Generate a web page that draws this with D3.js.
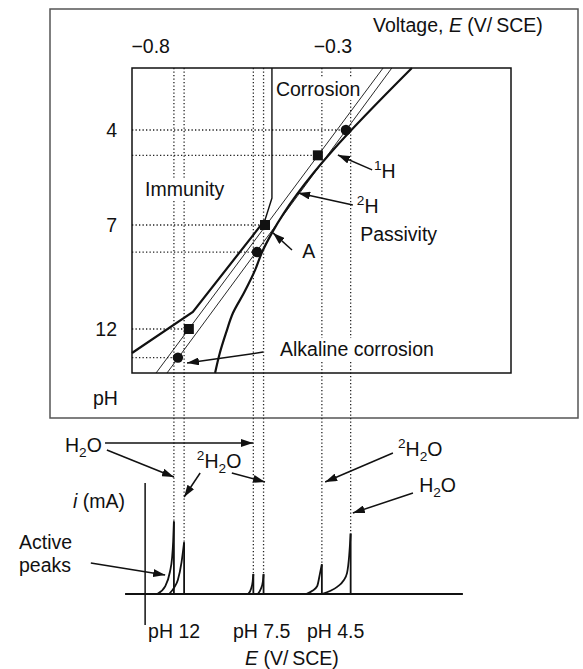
<!DOCTYPE html>
<html><head><meta charset="utf-8">
<script src="https://cdn.jsdelivr.net/npm/d3@7"></script>
<style>
body{margin:0;background:#fff;}
svg text{font-family:"Liberation Sans",Arial,sans-serif;fill:#111;}
</style></head><body>
<svg id="c" width="583" height="669"></svg>
<script>
// ---------- data ----------
const voltageTicks = [-0.8, -0.3];
const pHTicks = [4, 7, 12];
const eDomain = [-0.85, 0.19];
const pHDomain = [2, 4, 7, 12, 14];
const iDomain = [0, 10];

const thinLineSquares = [[-0.161, 2], [-0.784, 14]];
const thinLineCircles = [[-0.137, 2], [-0.754, 14]];
const line1H = [[-0.082, 2], [-0.466, 7.38], [-0.493, 8.3], [-0.512, 9.16], [-0.543, 10.27], [-0.573, 11.23], [-0.592, 12.18], [-0.609, 13.09], [-0.622, 14]];
const corrosionUpper = [[-0.466, 2], [-0.466, 6.15], [-0.485, 6.84]];
const immunityLower = [[-0.485, 6.84], [-0.683, 11.18], [-0.85, 13.09]];
const squarePoints = [[-0.340, 4.8], [-0.485, 7], [-0.694, 12]];
const circlePoints = [[-0.263, 4], [-0.507, 8.3], [-0.724, 13.3]];

const peakE = [-0.735, -0.707, -0.517, -0.489, -0.329, -0.250];
const peakI = [6.6, 4.7, 1.8, 1.8, 2.7, 5.5];
const peakCurves = [
  [[-0.781, 0], [-0.759, 0.7], [-0.746, 2.0], [-0.740, 3.3], [-0.737, 4.8], [-0.735, 6.6]],
  [[-0.748, 0], [-0.734, 0.6], [-0.724, 1.3], [-0.714, 2.9], [-0.707, 4.7]],
  [[-0.531, 0], [-0.523, 0.5], [-0.519, 1.1], [-0.517, 1.8]],
  [[-0.505, 0], [-0.496, 0.5], [-0.491, 1.1], [-0.489, 1.8]],
  [[-0.372, 0], [-0.355, 0.3], [-0.342, 0.7], [-0.334, 1.9], [-0.329, 2.7]],
  [[-0.329, 0], [-0.305, 0.3], [-0.287, 0.65], [-0.270, 1.2], [-0.260, 1.9], [-0.254, 3.5], [-0.250, 5.5]]
];
const phLabels = ["pH 12", "pH 7.5", "pH 4.5"];
const phLabelE = [-0.806, -0.573, -0.370];

// annotation arrows (data coordinates)
const upperArrows = [
  [[-0.191, 5.26], [-0.285, 4.79]],
  [[-0.244, 6.37], [-0.394, 5.99]],
  [[-0.411, 8.2], [-0.463, 7.38]],
  [[-0.490, 13.05], [-0.699, 13.55]]
];
const lowerArrows = [
  [[-0.924, 13.73], [-0.518, 13.73]],
  [[-0.919, 13.09], [-0.735, 10.64]],
  [[-0.663, 11.0], [-0.707, 8.82]],
  [[-0.576, 11.0], [-0.485, 10.18]],
  [[-0.134, 12.82], [-0.320, 10.18]],
  [[-0.079, 9.18], [-0.244, 7.36]],
  [[-0.963, 2.82], [-0.759, 1.73]]
];

// ---------- drawing ----------
const svg = d3.select("#c");
const x = d3.scaleLinear().domain(eDomain).range([132, 511]);
const y = d3.scaleLinear().domain(pHDomain).range([68, 130, 225, 329, 373]);
const yi = d3.scaleLinear().domain(iDomain).range([594, 484]);
const FS = 19.5;

const defs = svg.append("defs");
defs.append("marker").attr("id", "ah").attr("viewBox", "0 0 12 8")
  .attr("refX", 12).attr("refY", 4).attr("markerWidth", 12).attr("markerHeight", 8)
  .attr("markerUnits", "userSpaceOnUse").attr("orient", "auto")
  .append("path").attr("d", "M0,0 L12,4 L0,8 Z").attr("fill", "#111");

// outer frame
svg.append("rect").attr("x", 50).attr("y", 9).attr("width", 528).attr("height", 409)
  .attr("fill", "none").attr("stroke", "#555").attr("stroke-width", 1.5);

const dotted = {stroke: "#222", "stroke-width": 1.3, "stroke-dasharray": "1.3 2.2"};
function applyAttrs(sel, o) { for (const k in o) sel.attr(k, o[k]); return sel; }

// vertical dotted lines spanning both panels
peakE.forEach((e, k) => {
  applyAttrs(svg.append("line").attr("x1", x(e)).attr("x2", x(e))
    .attr("y1", y(pHDomain[0])).attr("y2", yi(peakI[k])), dotted);
});
// horizontal dotted lines
squarePoints.concat(circlePoints).forEach(p => {
  applyAttrs(svg.append("line").attr("x1", x(eDomain[0])).attr("x2", x(p[0]))
    .attr("y1", y(p[1])).attr("y2", y(p[1])), dotted);
});

// labels with white background
function label(xp, yp, parts, bg) {
  const g = svg.append("g");
  const t = g.append("text").attr("x", xp).attr("y", yp).attr("font-size", FS);
  parts.forEach(p => {
    const ts = t.append("tspan").text(p.t);
    if (p.sub) ts.attr("font-size", FS * 0.7).attr("dy", 5);
    if (p.sup) ts.attr("font-size", FS * 0.7).attr("dy", p.sup);
    if (p.dy) ts.attr("dy", p.dy);
    if (p.it) ts.attr("font-style", "italic");
  });
  if (bg) {
    const b = t.node().getBBox();
    g.insert("rect", "text").attr("x", b.x - 2).attr("y", b.y).attr("width", b.width + 4)
      .attr("height", b.height).attr("fill", "#fff");
  }
  return t;
}

// inner box
svg.append("rect").attr("x", x(eDomain[0])).attr("y", y(pHDomain[0]))
  .attr("width", x(eDomain[1]) - x(eDomain[0])).attr("height", y(14) - y(2))
  .attr("fill", "none").attr("stroke", "#111").attr("stroke-width", 1.5);

label(x(-0.455), y(2.9), [{t: "Corrosion"}], true);
label(x(-0.814), y(6.08), [{t: "Immunity"}], true);
label(x(-0.224), y(7.77), [{t: "Passivity"}], true);
label(x(-0.444), y(13.23), [{t: "Alkaline corrosion"}], true);
label(x(-0.383), y(8.59), [{t: "A"}], false);
label(x(-0.186), y(5.52), [{t: "1", sup: -8}, {t: "H", dy: 8}], false);
label(x(-0.233), y(6.62), [{t: "2", sup: -8}, {t: "H", dy: 8}], false);

// boundary lines
const lp = d3.line().x(d => x(d[0])).y(d => y(d[1]));
svg.append("path").attr("d", lp(thinLineSquares)).attr("fill", "none").attr("stroke", "#111").attr("stroke-width", 0.9);
svg.append("path").attr("d", lp(thinLineCircles)).attr("fill", "none").attr("stroke", "#111").attr("stroke-width", 0.9);
svg.append("path").attr("d", lp.curve(d3.curveMonotoneY)(line1H)).attr("fill", "none").attr("stroke", "#111").attr("stroke-width", 2.2);
lp.curve(d3.curveLinear);
svg.append("path").attr("d", lp(corrosionUpper)).attr("fill", "none").attr("stroke", "#111").attr("stroke-width", 1.4);
svg.append("path").attr("d", lp(immunityLower)).attr("fill", "none").attr("stroke", "#111").attr("stroke-width", 2.2);

// markers
svg.selectAll("rect.sq").data(squarePoints).join("rect").attr("class", "sq")
  .attr("x", d => x(d[0]) - 5).attr("y", d => y(d[1]) - 5).attr("width", 10).attr("height", 10).attr("fill", "#111");
svg.selectAll("circle.ci").data(circlePoints).join("circle").attr("class", "ci")
  .attr("cx", d => x(d[0])).attr("cy", d => y(d[1])).attr("r", 5.2).attr("fill", "#111");

// upper arrows
upperArrows.forEach(a => {
  svg.append("line").attr("x1", x(a[0][0])).attr("y1", y(a[0][1])).attr("x2", x(a[1][0])).attr("y2", y(a[1][1]))
    .attr("stroke", "#111").attr("stroke-width", 1.5).attr("marker-end", "url(#ah)");
});

// axes of top panel
const ax = svg.append("g").attr("transform", "translate(0,53)")
  .call(d3.axisTop(x).tickValues(voltageTicks).tickSize(0).tickPadding(0).tickFormat(d3.format(".1f")));
ax.select(".domain").remove();
ax.selectAll("text").attr("font-size", FS).attr("font-family", "Liberation Sans").attr("fill", "#111");
const ay = svg.append("g").attr("transform", "translate(117,0)")
  .call(d3.axisLeft(y).tickValues(pHTicks).tickSize(0).tickPadding(0).tickFormat(d3.format("d")));
ay.select(".domain").remove();
ay.selectAll("text").attr("font-size", FS).attr("font-family", "Liberation Sans").attr("fill", "#111");

label(373, 32, [{t: "Voltage, "}, {t: "E", it: true}, {t: " (V/\u2009SCE)"}], false);
label(93, 405, [{t: "pH"}], false);

// ---------- lower panel ----------
svg.append("line").attr("x1", x(-0.869)).attr("x2", x(0.058)).attr("y1", yi(0)).attr("y2", yi(0))
  .attr("stroke", "#111").attr("stroke-width", 2);
svg.append("line").attr("x1", x(-0.814)).attr("x2", x(-0.814)).attr("y1", yi(10.1)).attr("y2", yi(-2.82))
  .attr("stroke", "#111").attr("stroke-width", 1.5);

const lpi = d3.line().x(d => x(d[0])).y(d => yi(d[1])).curve(d3.curveMonotoneX);
peakCurves.forEach((c, k) => {
  svg.append("path").attr("d", lpi(c)).attr("fill", "none").attr("stroke", "#111").attr("stroke-width", 1.8);
  svg.append("line").attr("x1", x(peakE[k])).attr("x2", x(peakE[k])).attr("y1", yi(peakI[k])).attr("y2", yi(0))
    .attr("stroke", "#111").attr("stroke-width", 1.8);
});

lowerArrows.forEach(a => {
  svg.append("line").attr("x1", x(a[0][0])).attr("y1", yi(a[0][1])).attr("x2", x(a[1][0])).attr("y2", yi(a[1][1]))
    .attr("stroke", "#111").attr("stroke-width", 1.5).attr("marker-end", "url(#ah)");
});

label(x(-1.034), yi(12.9), [{t: "H"}, {t: "2", sub: true}, {t: "O", dy: -5}], false);
label(x(-0.672), yi(11.45), [{t: "2", sup: -8}, {t: "H", dy: 8}, {t: "2", sub: true}, {t: "O", dy: -5}], false);
label(x(-0.120), yi(12.55), [{t: "2", sup: -8}, {t: "H", dy: 8}, {t: "2", sub: true}, {t: "O", dy: -5}], false);
label(x(-0.062), yi(9.27), [{t: "H"}, {t: "2", sub: true}, {t: "O", dy: -5}], false);
label(73, 508, [{t: "i", it: true}, {t: " (mA)"}], false);
label(x(-1.160), yi(4.05), [{t: "Active"}], false);
label(x(-1.160), yi(2.0), [{t: "peaks"}], false);
phLabels.forEach((s, k) => label(x(phLabelE[k]), 638, [{t: s}], false));
label(245, 665, [{t: "E", it: true}, {t: " (V/\u2009SCE)"}], false);
</script>
</body></html>
